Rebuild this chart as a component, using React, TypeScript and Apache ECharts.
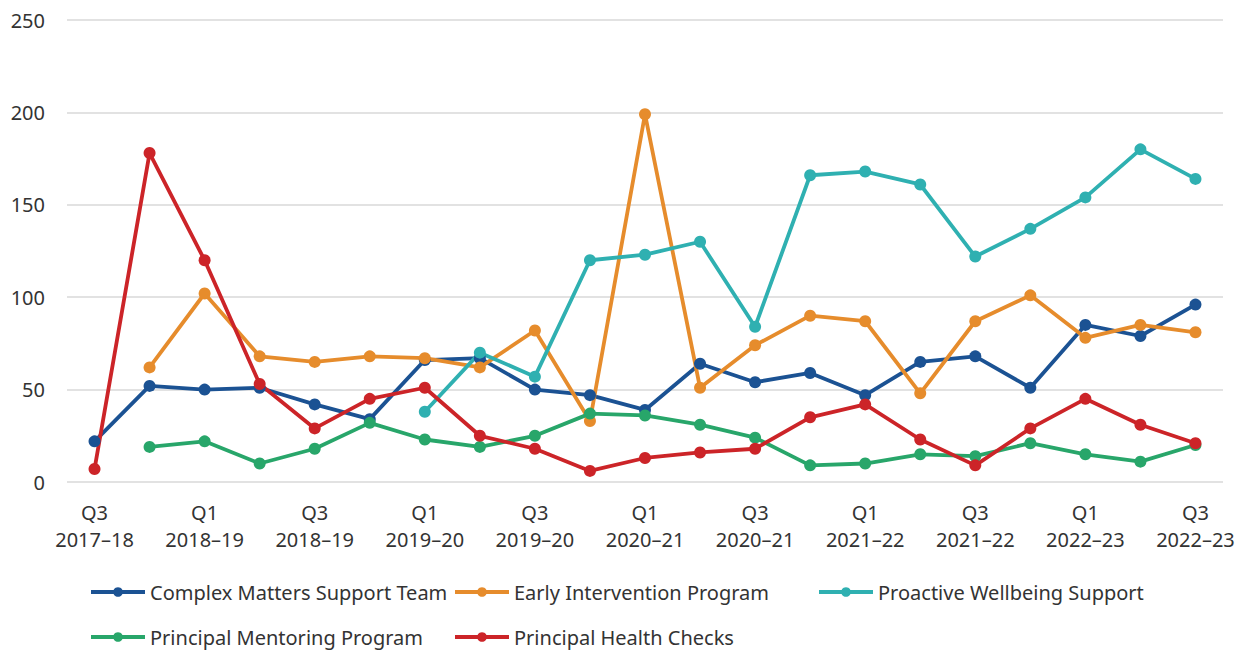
import React, { useEffect, useRef } from "react";
import * as echarts from "echarts";

const categories = [
  "Q3\n2017–18", "Q4\n2017–18", "Q1\n2018–19", "Q2\n2018–19", "Q3\n2018–19", "Q4\n2018–19",
  "Q1\n2019–20", "Q2\n2019–20", "Q3\n2019–20", "Q4\n2019–20", "Q1\n2020–21", "Q2\n2020–21",
  "Q3\n2020–21", "Q4\n2020–21", "Q1\n2021–22", "Q2\n2021–22", "Q3\n2021–22", "Q4\n2021–22",
  "Q1\n2022–23", "Q2\n2022–23", "Q3\n2022–23",
];

const complexMatters = [22, 52, 50, 51, 42, 34, 66, 67, 50, 47, 39, 64, 54, 59, 47, 65, 68, 51, 85, 79, 96];
const earlyIntervention = [null, 62, 102, 68, 65, 68, 67, 62, 82, 33, 199, 51, 74, 90, 87, 48, 87, 101, 78, 85, 81];
const proactiveWellbeing = [null, null, null, null, null, null, 38, 70, 57, 120, 123, 130, 84, 166, 168, 161, 122, 137, 154, 180, 164];
const principalMentoring = [null, 19, 22, 10, 18, 32, 23, 19, 25, 37, 36, 31, 24, 9, 10, 15, 14, 21, 15, 11, 20];
const principalHealth = [7, 178, 120, 53, 29, 45, 51, 25, 18, 6, 13, 16, 18, 35, 42, 23, 9, 29, 45, 31, 21];

const seriesNames = [
  "Complex Matters Support Team",
  "Early Intervention Program",
  "Proactive Wellbeing Support",
  "Principal Mentoring Program",
  "Principal Health Checks",
];
const seriesColors = ["#1B5293", "#E68C2C", "#2FB0B1", "#28A66A", "#CC2428"];
const seriesData = [complexMatters, earlyIntervention, proactiveWellbeing, principalMentoring, principalHealth];

const FONT = "'Noto Sans', sans-serif";
const TEXT = "#333333";

export default function App() {
  const ref = useRef<HTMLDivElement>(null);
  useEffect(() => {
    document.body.style.margin = "0";
    const chart = echarts.init(ref.current!, null, { renderer: "svg" });
    const legendPos = [
      { left: 89, top: 582 },
      { left: 453, top: 582 },
      { left: 817, top: 582 },
      { left: 89, top: 627 },
      { left: 453, top: 627 },
    ];
    chart.setOption({
      animation: false,
      textStyle: { fontFamily: FONT },
      grid: { left: 67, right: 22, top: 20, bottom: 170, containLabel: false },
      xAxis: {
        type: "category",
        data: categories,
        boundaryGap: true,
        axisLine: { show: false },
        axisTick: { show: false },
        axisLabel: {
          interval: 1,
          color: TEXT,
          fontSize: 20,
          lineHeight: 27,
          margin: 17,
          fontFamily: FONT,
        },
      },
      yAxis: {
        type: "value",
        min: 0,
        max: 250,
        interval: 50,
        axisLine: { show: false },
        axisTick: { show: false },
        axisLabel: { color: TEXT, fontSize: 20, margin: 22, fontFamily: FONT },
        splitLine: { lineStyle: { color: "#d9d9d9", width: 1.5 } },
      },
      legend: legendPos.map((p, i) => ({
        data: [seriesNames[i]],
        left: p.left,
        top: p.top,
        padding: 0,
        itemWidth: 54,
        itemHeight: 12,
        itemGap: 0,
        lineStyle: { width: 4 },
        textStyle: { color: TEXT, fontSize: 20, fontFamily: FONT },
      })),
      series: seriesNames.map((name, i) => ({
        name,
        type: "line",
        data: seriesData[i],
        connectNulls: false,
        symbol: "circle",
        symbolSize: 12,
        showSymbol: true,
        lineStyle: { width: 3.8, color: seriesColors[i] },
        itemStyle: { color: seriesColors[i] },
        emphasis: { disabled: true },
      })),
    });
    return () => chart.dispose();
  }, []);
  return <div ref={ref} style={{ width: 1245, height: 652 }} />;
}
